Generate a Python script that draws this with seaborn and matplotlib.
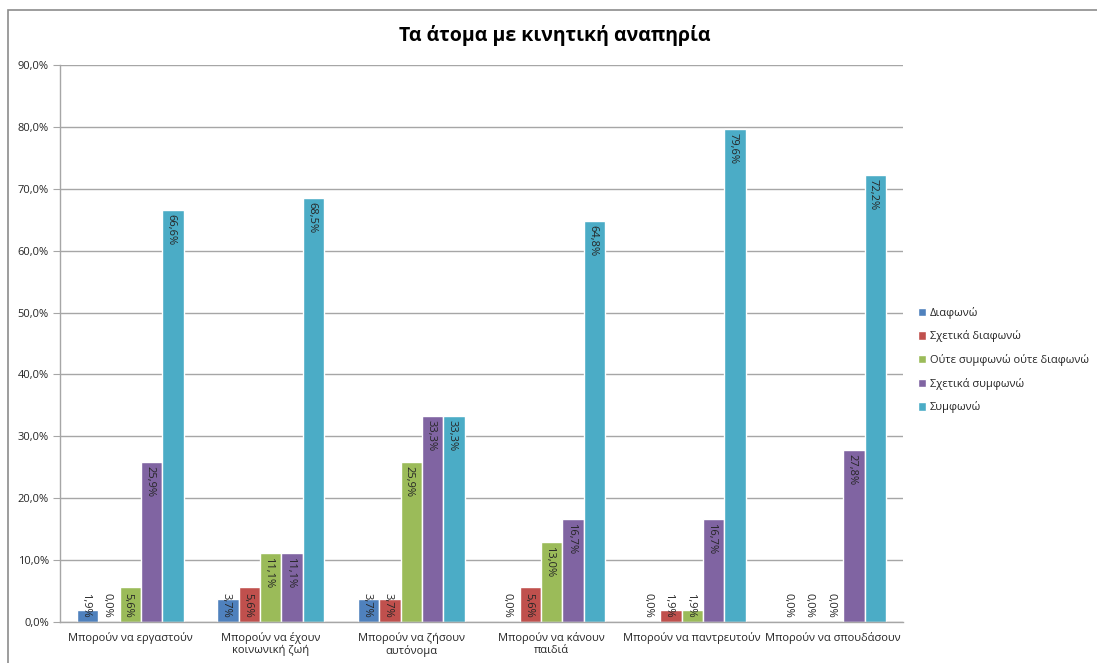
import matplotlib
matplotlib.use("Agg")
import matplotlib.pyplot as plt
import seaborn as sns
import pandas as pd
from matplotlib.patches import Rectangle
from matplotlib.ticker import FuncFormatter, MultipleLocator
from matplotlib.transforms import offset_copy

categories = [
    "Μπορούν να εργαστούν",
    "Μπορούν να έχουν\nκοινωνική ζωή",
    "Μπορούν να ζήσουν\nαυτόνομα",
    "Μπορούν να κάνουν\nπαιδιά",
    "Μπορούν να παντρευτούν",
    "Μπορούν να σπουδάσουν",
]
series = [
    "Διαφωνώ",
    "Σχετικά διαφωνώ",
    "Ούτε συμφωνώ ούτε διαφωνώ",
    "Σχετικά συμφωνώ",
    "Συμφωνώ",
]
diafono = [1.9, 3.7, 3.7, 0.0, 0.0, 0.0]
sxetika_diafono = [0.0, 5.6, 3.7, 5.6, 1.9, 0.0]
oute = [5.6, 11.1, 25.9, 13.0, 1.9, 0.0]
sxetika_symfono = [25.9, 11.1, 33.3, 16.7, 16.7, 27.8]
symfono = [66.6, 68.5, 33.3, 64.8, 79.6, 72.2]
title = "Τα άτομα με κινητική αναπηρία"

colors = ["#4F81BD", "#C0504D", "#9BBB59", "#8064A2", "#4BACC6"]

values = [diafono, sxetika_diafono, oute, sxetika_symfono, symfono]
rows = []
for s, vals in zip(series, values):
    for c, v in zip(categories, vals):
        rows.append({"cat": c, "series": s, "value": v})
df = pd.DataFrame(rows)

sns.set_style("white")
plt.rcParams["font.family"] = ["Open Sans", "DejaVu Sans"]

fig = plt.figure(figsize=(10.97, 6.63), dpi=100)
ax = fig.add_axes([60 / 1097, 1 - 622 / 663, 843 / 1097, 557 / 663])

sns.barplot(data=df, x="cat", y="value", hue="series", order=categories,
            hue_order=series, palette=colors, width=0.76, gap=0,
            saturation=1, ax=ax, legend=True, errorbar=None)

ax.set_ylim(0, 90)
ax.set_xlim(-0.5, len(categories) - 0.5)
ax.yaxis.set_major_locator(MultipleLocator(10))
ax.yaxis.set_major_formatter(FuncFormatter(lambda v, p: f"{v:.1f}%".replace(".", ",")))
ax.grid(axis="y", color="#A6A6A6", linewidth=1)
ax.set_axisbelow(True)
for side in ["top", "right"]:
    ax.spines[side].set_visible(False)
for side in ["left", "bottom"]:
    ax.spines[side].set_color("#A6A6A6")
    ax.spines[side].set_linewidth(1)
ax.tick_params(axis="y", which="both", left=True, length=5, color="#A6A6A6",
               labelsize=8, labelcolor="#262626", pad=3)
ax.tick_params(axis="x", bottom=False, labelsize=8, labelcolor="#262626", pad=4)
for lbl in ax.get_xticklabels():
    lbl.set_linespacing(1.05)
ax.set_xlabel("")
ax.set_ylabel("")

# data labels
px_per_unit = 557 / 90
text_len = 30 / px_per_unit
pad = 4 / px_per_unit
shifted = offset_copy(ax.transData, fig=fig, x=-2, y=0, units="dots")
for cont, vals in zip(ax.containers, values):
    for rect, v in zip(cont.patches, vals):
        xc = rect.get_x() + rect.get_width() / 2
        label = f"{v:.1f}%".replace(".", ",")
        if v - pad - text_len > pad:
            ax.text(xc, v - pad, label, rotation=270, ha="center", va="top",
                    fontsize=8, color="#262626", transform=shifted)
        else:
            ax.text(xc, pad, label, rotation=270, ha="center", va="bottom",
                    fontsize=8, color="#262626", transform=shifted)

leg = ax.legend(loc="center left", bbox_to_anchor=((918 - 60) / 843, (622 - 360) / 557),
                frameon=False, fontsize=8, handlelength=0.75, handleheight=0.75,
                handletextpad=0.3, labelspacing=1.05, borderaxespad=0, borderpad=0)
for t in leg.get_texts():
    t.set_color("#262626")

fig.text(555 / 1097, 1 - 36 / 663, title, ha="center", va="center",
         fontsize=14, fontweight="bold", color="black")

fig.patches.append(Rectangle((8 / 1097, -0.01), 1.1, 1 - 10 / 663 + 0.01,
                             transform=fig.transFigure, fill=False,
                             edgecolor="#8C8C8C", linewidth=1.2))

fig.savefig("out.png", dpi=100, facecolor="white")
